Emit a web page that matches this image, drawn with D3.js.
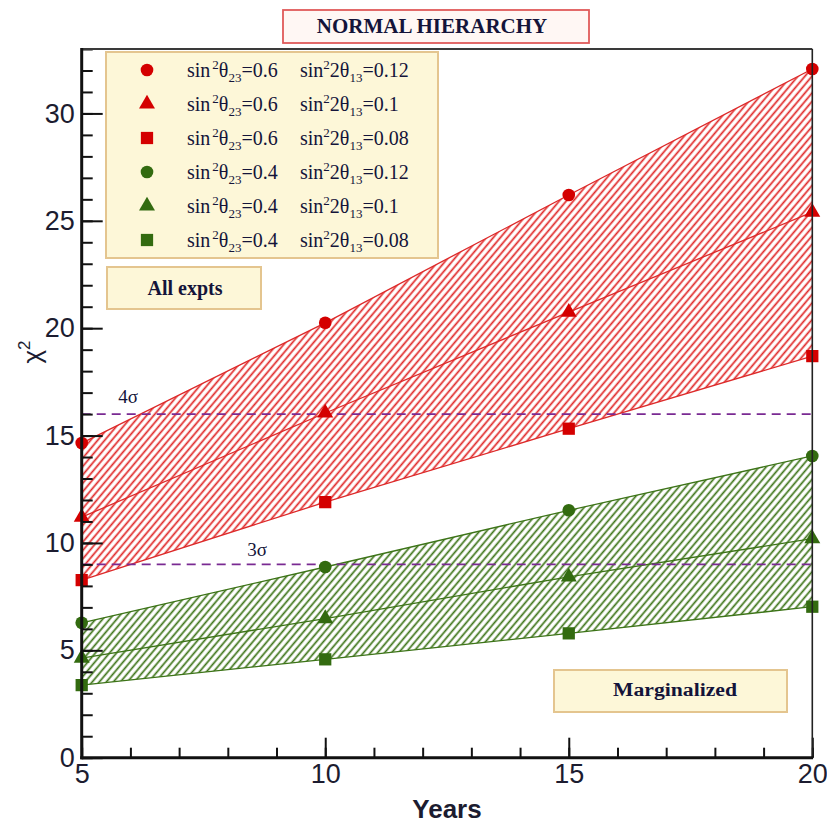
<!DOCTYPE html>
<html>
<head>
<meta charset="utf-8">
<script src="https://cdn.jsdelivr.net/npm/d3@7"></script>
<style>
  html, body { margin: 0; padding: 0; background: #ffffff; }
  svg { display: block; }
</style>
</head>
<body>
<svg id="chart" width="827" height="826"></svg>
<script>
// Exposure in years
const years = [5, 10, 15, 20];

// chi^2 sensitivity for each (sin^2 theta23, sin^2 2theta13) pair
const red012 = [14.65, 20.25, 26.2, 32.07];
const red010 = [11.2, 16.05, 20.75, 25.4];
const red008 = [8.27, 11.9, 15.32, 18.7];
const green012 = [6.28, 8.88, 11.52, 14.05];
const green010 = [4.64, 6.48, 8.42, 10.2];
const green008 = [3.38, 4.58, 5.79, 7.03];

// Legend entries
const theta23Values = ["0.6", "0.6", "0.6", "0.4", "0.4", "0.4"];
const theta13Values = ["0.12", "0.1", "0.08", "0.12", "0.1", "0.08"];
const legendShapes = ["circle", "triangle", "square", "circle", "triangle", "square"];
const legendGroups = ["red", "red", "red", "green", "green", "green"];

// Significance levels
const sigmaValues = [16, 9];
const sigmaLabels = ["4σ", "3σ"];

// Axis ticks
const xMajorTicks = [5, 10, 15, 20];
const yMajorTicks = [0, 5, 10, 15, 20, 25, 30];

const colors = {
  red: "#d40000",
  redLine: "#dd2a2a",
  green: "#336b10",
  greenLine: "#3d7418",
  sigma: "#7a2a92",
  text: "#14143a"
};

const svg = d3.select("#chart");
const plotLeft = 81.7, plotRight = 812.3, plotTop = 49, plotBottom = 757.7;

const x = d3.scaleLinear().domain([5, 20]).range([plotLeft, plotRight]);
const y = d3.scaleLinear().domain([0, 33]).range([plotBottom, plotTop]);

// Hatch patterns
const defs = svg.append("defs");
function hatch(id, color) {
  const p = defs.append("pattern")
    .attr("id", id)
    .attr("patternUnits", "userSpaceOnUse")
    .attr("width", 5.4)
    .attr("height", 10)
    .attr("patternTransform", "rotate(40)");
  p.append("line")
    .attr("x1", 1.4).attr("x2", 1.4)
    .attr("y1", 0).attr("y2", 10)
    .attr("stroke", color)
    .attr("stroke-width", 1.7);
}
hatch("hatchRed", "#e02828");
hatch("hatchGreen", "#3d7418");

const clipId = "plotClip";
defs.append("clipPath").attr("id", clipId)
  .append("rect").attr("x", plotLeft).attr("y", plotTop)
  .attr("width", plotRight - plotLeft).attr("height", plotBottom - plotTop);

const plot = svg.append("g").attr("clip-path", `url(#${clipId})`);

const line = d3.line().x((d, i) => x(years[i])).y(d => y(d));
const band = d3.area()
  .x(d => x(d.year))
  .y0(d => y(d.lo))
  .y1(d => y(d.hi));

function drawBand(hi, mid, lo, pattern, lineColor) {
  const rows = years.map((yr, i) => ({ year: yr, hi: hi[i], lo: lo[i] }));
  plot.append("path").datum(rows)
    .attr("d", band)
    .attr("fill", `url(#${pattern})`)
    .attr("stroke", "none");
  [hi, mid, lo].forEach(s => {
    plot.append("path").datum(s)
      .attr("d", line)
      .attr("fill", "none")
      .attr("stroke", lineColor)
      .attr("stroke-width", 1.3);
  });
}

drawBand(red012, red010, red008, "hatchRed", colors.redLine);
drawBand(green012, green010, green008, "hatchGreen", colors.greenLine);

// Significance lines
sigmaValues.forEach(v => {
  plot.append("line")
    .attr("x1", plotLeft).attr("x2", plotRight)
    .attr("y1", y(v)).attr("y2", y(v))
    .attr("stroke", colors.sigma)
    .attr("stroke-width", 1.8)
    .attr("stroke-dasharray", "9,6");
});
const sigmaLabelX = [128, 257];
const sigmaLabelDy = [-11, -8];
sigmaValues.forEach((v, i) => {
  svg.append("text")
    .attr("x", sigmaLabelX[i]).attr("y", y(v) + sigmaLabelDy[i])
    .attr("text-anchor", "middle")
    .attr("font-family", "Liberation Serif, Times New Roman, serif")
    .attr("font-size", 19)
    .attr("fill", colors.text)
    .text(sigmaLabels[i]);
});

// Markers
const symbolTypes = {
  circle: d3.symbolCircle,
  triangle: d3.symbolTriangle,
  square: d3.symbolSquare
};
const symbolSizes = { circle: 125, triangle: 110, square: 150 };
function marker(g, shape, color, cx, cy) {
  g.append("path")
    .attr("d", d3.symbol().type(symbolTypes[shape]).size(symbolSizes[shape])())
    .attr("transform", `translate(${cx},${cy})`)
    .attr("fill", color);
}
const seriesList = [
  [red012, "circle", colors.red], [red010, "triangle", colors.red], [red008, "square", colors.red],
  [green012, "circle", colors.green], [green010, "triangle", colors.green], [green008, "square", colors.green]
];
const markers = svg.append("g");
seriesList.forEach(([vals, shape, color]) => {
  vals.forEach((v, i) => marker(markers, shape, color, x(years[i]), y(v)));
});

// Axes
const axisFont = "Liberation Sans, Arial, Helvetica, sans-serif";
const yMinor = svg.append("g").attr("transform", `translate(${plotLeft},0)`)
  .call(d3.axisLeft(y).tickValues(d3.range(0, 34)).tickSizeInner(-11).tickSizeOuter(0).tickFormat(""));
const yMajor = svg.append("g").attr("transform", `translate(${plotLeft},0)`)
  .call(d3.axisLeft(y).tickValues(yMajorTicks).tickSizeInner(-21).tickSizeOuter(0).tickPadding(7).tickFormat(d3.format("d")));
const xMinor = svg.append("g").attr("transform", `translate(0,${plotBottom})`)
  .call(d3.axisBottom(x).tickValues(d3.range(5, 21)).tickSizeInner(-10).tickSizeOuter(0).tickFormat(""));
const xMajor = svg.append("g").attr("transform", `translate(0,${plotBottom})`)
  .call(d3.axisBottom(x).tickValues(xMajorTicks).tickSizeInner(-20).tickSizeOuter(0).tickPadding(6).tickFormat(d3.format("d")));

[yMinor, yMajor, xMinor, xMajor].forEach(g => {
  g.select(".domain").remove();
  g.selectAll(".tick line").attr("stroke", "#111").attr("stroke-width", 2);
  g.selectAll(".tick text")
    .attr("font-family", axisFont)
    .attr("font-size", 27)
    .attr("fill", "#1c1c30");
});

// Frame
svg.append("line").attr("x1", plotLeft).attr("x2", plotRight).attr("y1", plotTop).attr("y2", plotTop)
  .attr("stroke", "#3a3a3a").attr("stroke-width", 2);
svg.append("line").attr("x1", plotRight).attr("x2", plotRight).attr("y1", plotTop).attr("y2", plotBottom)
  .attr("stroke", "#222").attr("stroke-width", 1.6);
svg.append("line").attr("x1", plotLeft).attr("x2", plotLeft).attr("y1", plotTop - 1).attr("y2", plotBottom + 1.5)
  .attr("stroke", "#111").attr("stroke-width", 3);
svg.append("line").attr("x1", plotLeft - 1.5).attr("x2", plotRight + 0.8).attr("y1", plotBottom).attr("y2", plotBottom)
  .attr("stroke", "#111").attr("stroke-width", 3);

// Axis titles
svg.append("text")
  .attr("x", 447).attr("y", 818)
  .attr("text-anchor", "middle")
  .attr("font-family", axisFont)
  .attr("font-weight", "bold")
  .attr("font-size", 26)
  .attr("fill", "#1c1c30")
  .text("Years");
const yTitle = svg.append("text")
  .attr("transform", "translate(41,352) rotate(-90)")
  .attr("text-anchor", "middle")
  .attr("font-family", axisFont)
  .attr("font-size", 26)
  .attr("fill", "#1c1c30");
yTitle.append("tspan").text("χ");
yTitle.append("tspan").attr("font-size", 17).attr("dy", -11).text("2");

// Title box
const serif = "Liberation Serif, Times New Roman, serif";
svg.append("rect").attr("x", 283).attr("y", 10).attr("width", 306).attr("height", 33)
  .attr("fill", "#fff7f4").attr("stroke", "#e05a5a").attr("stroke-width", 1.8);
svg.append("text").attr("x", 432).attr("y", 33)
  .attr("text-anchor", "middle")
  .attr("font-family", serif).attr("font-weight", "bold").attr("font-size", 21)
  .attr("fill", colors.text)
  .text("NORMAL HIERARCHY");

// Legend box
const boxFill = "#fdf7d8", boxStroke = "#e4c58f";
svg.append("rect").attr("x", 106).attr("y", 52).attr("width", 332).attr("height", 206)
  .attr("fill", boxFill).attr("stroke", boxStroke).attr("stroke-width", 2);

const legend = svg.append("g");
theta23Values.forEach((t23, i) => {
  const ry = 70 + i * 34;
  marker(legend, legendShapes[i], colors[legendGroups[i]], 147, ry);
  const t = legend.append("text")
    .attr("x", 187).attr("y", ry + 7)
    .attr("font-family", serif).attr("font-size", 20)
    .attr("fill", colors.text);
  t.append("tspan").text("sin");
  t.append("tspan").attr("font-size", 13).attr("dx", 2).attr("dy", -8).text("2");
  t.append("tspan").attr("dy", 8).text("θ");
  t.append("tspan").attr("font-size", 13).attr("dy", 5).text("23");
  t.append("tspan").attr("dy", -5).text("=" + t23);

  const t2 = legend.append("text")
    .attr("x", 300).attr("y", ry + 7)
    .attr("font-family", serif).attr("font-size", 20)
    .attr("fill", colors.text);
  t2.append("tspan").text("sin");
  t2.append("tspan").attr("font-size", 13).attr("dy", -8).text("2");
  t2.append("tspan").attr("dy", 8).text("2θ");
  t2.append("tspan").attr("font-size", 13).attr("dy", 5).text("13");
  t2.append("tspan").attr("dy", -5).text("=" + theta13Values[i]);
});

// Annotation boxes
svg.append("rect").attr("x", 107).attr("y", 267).attr("width", 154).attr("height", 42)
  .attr("fill", boxFill).attr("stroke", boxStroke).attr("stroke-width", 2);
svg.append("text").attr("x", 185).attr("y", 295)
  .attr("text-anchor", "middle")
  .attr("font-family", serif).attr("font-weight", "bold").attr("font-size", 20)
  .attr("fill", colors.text).text("All expts");

svg.append("rect").attr("x", 554).attr("y", 670).attr("width", 233).attr("height", 42)
  .attr("fill", boxFill).attr("stroke", boxStroke).attr("stroke-width", 2);
svg.append("text").attr("x", 675).attr("y", 696)
  .attr("text-anchor", "middle")
  .attr("font-family", serif).attr("font-weight", "bold").attr("font-size", 18)
  .attr("textLength", 124).attr("lengthAdjust", "spacingAndGlyphs")
  .attr("fill", colors.text).text("Marginalized");
</script>
</body>
</html>
